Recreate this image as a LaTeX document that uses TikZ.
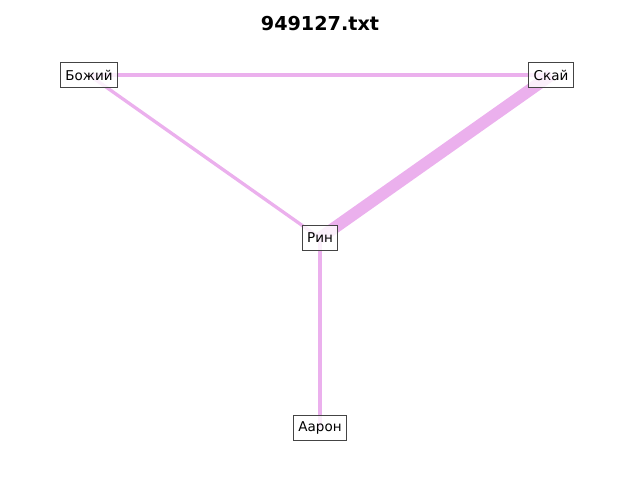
\documentclass[tikz,border=0pt]{standalone}
\usepackage{fontspec}
\setmainfont{DejaVu Sans}
\usetikzlibrary{backgrounds}
\definecolor{edgecol}{RGB}{235,176,237}
\definecolor{boxline}{RGB}{68,68,68}
\tikzset{
  person/.style={draw=boxline, line width=1pt, fill=white, fill opacity=0.8,
    text opacity=1, draw opacity=1, font=\fontsize{13.5}{16}\selectfont,
    inner xsep=5pt, inner ysep=5pt, minimum height=25pt},
  link/.style={draw=edgecol, line cap=butt}
}
\begin{document}
\begin{tikzpicture}[x=1pt,y=-1pt]
  \useasboundingbox (0,0) rectangle (640,480);
  \node[font=\fontsize{19.2}{22}\selectfont\bfseries] (title) at (320,24) {949127.txt};
  \node[person] (bozh) at (89,75) {Божий};
  \node[person] (skai) at (551,75) {Скай};
  \node[person] (rin) at (320,238) {Рин};
  \node[person] (aaron) at (320,428) {Аарон};
  \begin{scope}[on background layer]
    \draw[link, line width=4pt] (bozh.center) -- (skai.center);
    \draw[link, line width=3.3pt] (bozh.center) -- (rin.center);
    \draw[link, line width=12pt] (skai.center) -- (rin.center);
    \draw[link, line width=3.3pt] (rin.center) -- (aaron.center);
  \end{scope}
\end{tikzpicture}
\end{document}
